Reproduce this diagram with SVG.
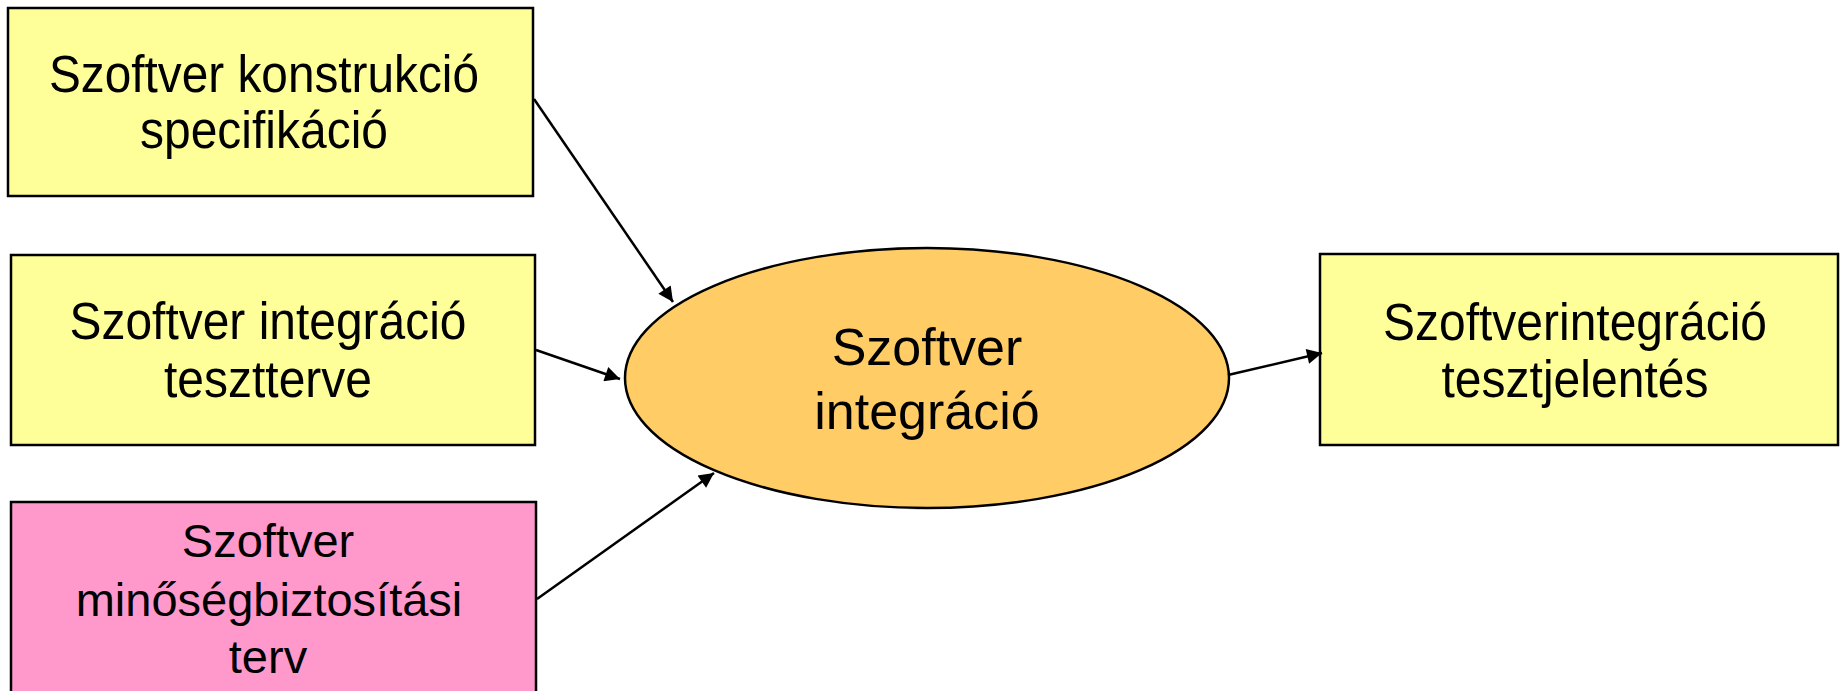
<svg xmlns="http://www.w3.org/2000/svg" width="1841" height="691" viewBox="0 0 1841 691">
<style>
.box{stroke:#000;stroke-width:2.5}
.y{fill:#FFFF99}
.p{fill:#FF99CC}
.t{font-family:"Liberation Sans",Arial,sans-serif;font-size:51px;fill:#000;text-anchor:middle}
.tp{font-size:47px}
.te{font-size:52px}
.c{stroke:#000;stroke-width:2.5;fill:none;marker-end:url(#ah)}
</style>
<defs>
<marker id="ah" viewBox="0 0 10 10" refX="10" refY="5" markerWidth="7" markerHeight="6" markerUnits="strokeWidth" orient="auto">
<path d="M0,0 L10,5 L0,10 z" fill="#000"/>
</marker>
</defs>
<rect width="1841" height="691" fill="#fff"/>
<g id="n1">
<rect class="box y" x="8" y="8" width="525" height="188"/>
<text class="t" x="264" y="92" textLength="430" lengthAdjust="spacingAndGlyphs">Szoftver konstrukció</text>
<text class="t" x="264" y="148" textLength="248" lengthAdjust="spacingAndGlyphs">specifikáció</text>
</g>
<g id="n2">
<rect class="box y" x="11" y="255" width="524" height="190"/>
<text class="t" x="268" y="339" textLength="397" lengthAdjust="spacingAndGlyphs">Szoftver integráció</text>
<text class="t" x="268" y="397" textLength="208" lengthAdjust="spacingAndGlyphs">tesztterve</text>
</g>
<g id="n3">
<rect class="box p" x="11" y="502" width="525" height="200"/>
<text class="t tp" x="268" y="557">Szoftver</text>
<text class="t tp" x="269" y="616">minőségbiztosítási</text>
<text class="t tp" x="268" y="673">terv</text>
</g>
<g id="n4">
<ellipse class="box" cx="927" cy="378" rx="302" ry="130" fill="#FFCC66"/>
<text class="t te" x="927" y="365">Szoftver</text>
<text class="t te" x="927" y="429">integráció</text>
</g>
<g id="n5">
<rect class="box y" x="1320" y="254" width="518" height="191"/>
<text class="t" x="1575" y="340" textLength="384" lengthAdjust="spacingAndGlyphs">Szoftverintegráció</text>
<text class="t" x="1575" y="397" textLength="267" lengthAdjust="spacingAndGlyphs">tesztjelentés</text>
</g>
<g id="connectors">
<line class="c" x1="534" y1="99" x2="673" y2="302"/>
<line class="c" x1="536" y1="350" x2="620" y2="379"/>
<line class="c" x1="537" y1="599" x2="714" y2="473"/>
<line class="c" x1="1228" y1="375" x2="1322" y2="353"/>
</g>
</svg>
